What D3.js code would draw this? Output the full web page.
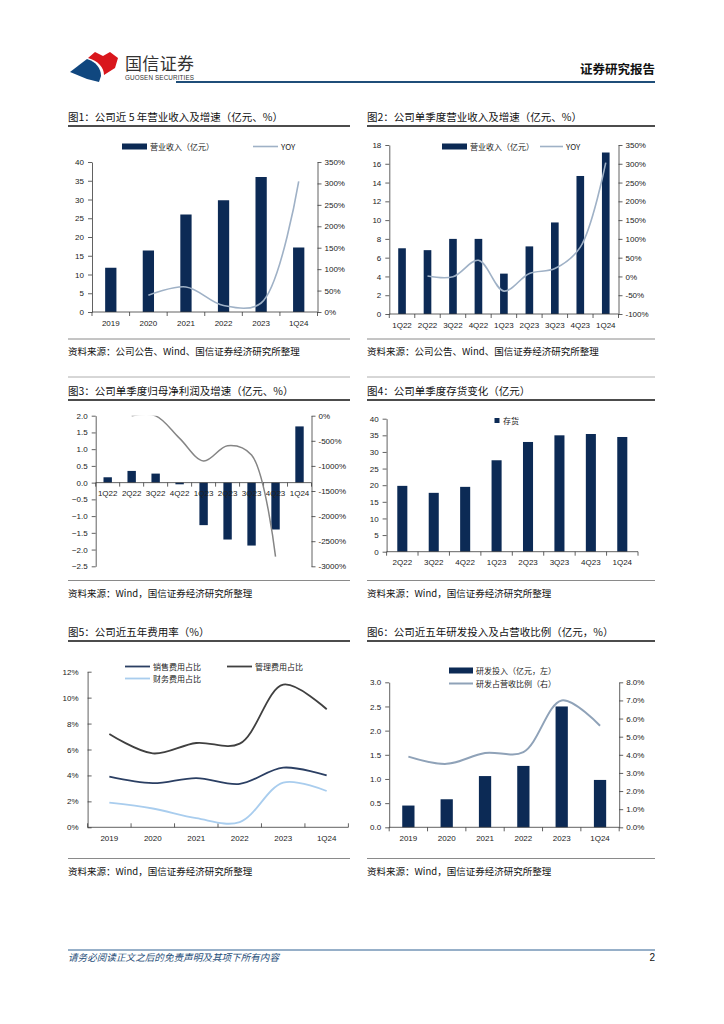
<!DOCTYPE html>
<html><head><meta charset="utf-8">
<script src="https://cdn.jsdelivr.net/npm/d3@7"></script>
<style>
html,body{margin:0;padding:0;background:#fff;}
svg{display:block;}
</style>
</head><body>
<script>
// ---------------- DATA ----------------
const years = ["2019","2020","2021","2022","2023","1Q24"];
const revenueAnnual = [11.8, 16.4, 26.0, 29.8, 36.0, 17.2];
const revenueAnnualYoY = [null, 39, 58.5, 15, 21, 305];

const quarters9 = ["1Q22","2Q22","3Q22","4Q22","1Q23","2Q23","3Q23","4Q23","1Q24"];
const revenueQ = [7.0, 6.8, 8.0, 8.0, 4.3, 7.2, 9.75, 14.7, 17.2];
const revenueQYoY = [null, 1, -1, 43, -39, 8, 21, 78, 303];

const profitQ = [0.16, 0.35, 0.27, -0.05, -1.27, -1.70, -1.88, -1.40, 1.68];
const profitQYoY = [null, -3, -3, -451, -902, -597, -783, -2807, null];

const quarters8 = ["2Q22","3Q22","4Q22","1Q23","2Q23","3Q23","4Q23","1Q24"];
const inventory = [19.8, 17.7, 19.5, 27.5, 33.0, 35.0, 35.4, 34.5];

const salesExpRatio = [3.9, 3.4, 3.8, 3.35, 4.6, 4.0];
const adminExpRatio = [7.2, 5.7, 6.5, 6.45, 11.0, 9.1];
const finExpRatio = [1.9, 1.45, 0.7, 0.4, 3.45, 2.8];

const rdInvest = [0.45, 0.58, 1.06, 1.27, 2.5, 0.98];
const rdRatio = [3.9, 3.5, 4.1, 4.15, 7.0, 5.6];

const leftTicks1 = [0,5,10,15,20,25,30,35,40];
const rightTicks1 = [0,50,100,150,200,250,300,350];
const leftTicks2 = [0,2,4,6,8,10,12,14,16,18];
const rightTicks2 = [-100,-50,0,50,100,150,200,250,300,350];
const leftTicks3 = [-2.5,-2,-1.5,-1,-0.5,0,0.5,1,1.5,2];
const rightTicks3 = [-3000,-2500,-2000,-1500,-1000,-500,0];
const leftTicks4 = [0,5,10,15,20,25,30,35,40];
const leftTicks5 = [0,2,4,6,8,10,12];
const leftTicks6 = [0,0.5,1,1.5,2,2.5,3];
const rightTicks6 = [0,1,2,3,4,5,6,7,8];

// ---------------- STYLE ----------------
const CJK = "'Noto Sans CJK SC','Noto Sans',sans-serif";
const LAT = "'Liberation Sans',Arial,sans-serif";
const NAVY = "#0c2a55";
const AXIS = "#3a3a3a";

const svg = d3.select("body").append("svg").attr("width",724).attr("height",1024);
svg.append("rect").attr("width",724).attr("height",1024).attr("fill","#fff");

// ---------------- HEADER ----------------
const logo = svg.append("g");
logo.append("path").attr("d","M88,58 L95,52 L103,56 L110,52 L118,58 L115,68 L104,75 C104,67 98,61 88,58 Z").attr("fill","#d9161c");
logo.append("path").attr("d","M70,72 L87,59 C96,62 101,68 101,76 L99,82 L87,79 Z").attr("fill","#10477f");
logo.append("text").attr("x",125).attr("y",70).attr("font-family",CJK).attr("font-size",17).attr("fill","#333").attr("textLength",69).text("国信证券");
logo.append("text").attr("x",125).attr("y",80).attr("font-family",LAT).attr("font-size",6.3).attr("fill","#333").attr("textLength",69).text("GUOSEN SECURITIES");
svg.append("line").attr("x1",176).attr("x2",655).attr("y1",82).attr("y2",82).attr("stroke","#1f4e79").attr("stroke-width",2);
svg.append("text").attr("x",655).attr("y",74).attr("text-anchor","end").attr("font-family",CJK).attr("font-weight","bold").attr("font-size",12.5).attr("fill","#111").text("证券研究报告");

// ---------------- FOOTER ----------------
svg.append("line").attr("x1",68).attr("x2",655).attr("y1",950).attr("y2",950).attr("stroke","#2e6192").attr("stroke-width",1);
svg.append("text").attr("x",68).attr("y",961).attr("font-family",CJK).attr("font-style","italic").attr("font-size",9.6).attr("fill","#1f4e79").text("请务必阅读正文之后的免责声明及其项下所有内容");
svg.append("text").attr("x",655).attr("y",961).attr("text-anchor","end").attr("font-family",LAT).attr("font-size",10).attr("fill","#111").text("2");

// ---------------- PANEL FRAME ----------------
function frame(x0,x1,titleY,title,srcY,src,topLine){
  if(topLine) svg.append("line").attr("x1",x0).attr("x2",x1).attr("y1",topLine).attr("y2",topLine).attr("stroke","#9a9a9a").attr("stroke-width",0.8);
  svg.append("text").attr("x",x0).attr("y",titleY).attr("font-family",CJK).attr("font-size",10.5).attr("fill","#111").text(title);
  svg.append("line").attr("x1",x0).attr("x2",x1).attr("y1",titleY+5).attr("y2",titleY+5).attr("stroke","#111").attr("stroke-width",1.3);
  svg.append("line").attr("x1",x0).attr("x2",x1).attr("y1",srcY-16).attr("y2",srcY-16).attr("stroke","#8a8a8a").attr("stroke-width",1);
  svg.append("text").attr("x",x0).attr("y",srcY).attr("font-family",CJK).attr("font-size",9.5).attr("fill","#111").text(src);
}

// axis helpers
function styleAxis(g){
  g.selectAll("path.domain").attr("stroke",AXIS).attr("stroke-width",0.8);
  g.selectAll(".tick line").attr("stroke",AXIS).attr("stroke-width",0.8);
  g.selectAll(".tick text").attr("font-family",LAT).attr("font-size",8).attr("fill","#222");
}
function leftAxis(scale,x,ticks,fmt,inner){
  const a = d3.axisLeft(scale).tickValues(ticks).tickFormat(fmt).tickSizeOuter(0).tickSizeInner(inner?-4:4).tickPadding(inner?9:4);
  const g = svg.append("g").attr("transform",`translate(${x},0)`).call(a);
  styleAxis(g); return g;
}
function rightAxis(scale,x,ticks,fmt){
  const a = d3.axisRight(scale).tickValues(ticks).tickFormat(fmt).tickSizeOuter(0).tickSizeInner(4).tickPadding(3);
  const g = svg.append("g").attr("transform",`translate(${x},0)`).call(a);
  styleAxis(g); return g;
}
function xAxis(xs,y,labelY,cats,tickDir){
  const r = xs.range();
  svg.append("line").attr("x1",r[0]).attr("x2",r[1]).attr("y1",y).attr("y2",y).attr("stroke",AXIS).attr("stroke-width",0.8);
  const bounds = cats.map(c=>xs(c)).concat([r[1]]);
  svg.append("g").selectAll("line").data(bounds).join("line")
    .attr("x1",d=>d).attr("x2",d=>d).attr("y1",y).attr("y2",y+4*tickDir)
    .attr("stroke",AXIS).attr("stroke-width",0.8);
  svg.append("g").selectAll("text").data(cats).join("text")
    .attr("x",d=>xs(d)+xs.bandwidth()/2).attr("y",labelY).attr("text-anchor","middle")
    .attr("font-family",LAT).attr("font-size",8).attr("fill","#222").text(d=>d);
}
function bars(xs,ys,cats,vals,ratio,color){
  const w = xs.bandwidth()*ratio;
  svg.append("g").selectAll("rect").data(vals).join("rect")
    .attr("x",(d,i)=>xs(cats[i])+xs.bandwidth()/2-w/2)
    .attr("y",d=>Math.min(ys(d),ys(0)))
    .attr("width",w).attr("height",d=>Math.abs(ys(d)-ys(0)))
    .attr("fill",color||NAVY);
}
let clipId=0;
function line(xs,ys,cats,vals,color,width,clip){
  const gen = d3.line().defined(d=>d!=null).x((d,i)=>xs(cats[i])+xs.bandwidth()/2).y(d=>ys(d)).curve(d3.curveCatmullRom.alpha(0.5));
  const p = svg.append("path").attr("d",gen(vals)).attr("fill","none").attr("stroke",color).attr("stroke-width",width).attr("stroke-linejoin","round");
  if(clip){
    const id="clip"+(clipId++);
    svg.append("clipPath").attr("id",id).append("rect").attr("x",clip[0]).attr("y",clip[1]).attr("width",clip[2]).attr("height",clip[3]);
    p.attr("clip-path",`url(#${id})`);
  }
}
function legendBar(x,y,w,label){
  svg.append("rect").attr("x",x).attr("y",y-3).attr("width",w).attr("height",6).attr("fill",NAVY);
  svg.append("text").attr("x",x+w+3).attr("y",y+3).attr("font-family",CJK).attr("font-size",8).attr("fill","#222").text(label);
}
function legendLine(x,y,w,label,color,width){
  svg.append("line").attr("x1",x).attr("x2",x+w).attr("y1",y).attr("y2",y).attr("stroke",color).attr("stroke-width",width);
  svg.append("text").attr("x",x+w+3).attr("y",y+3).attr("font-family",CJK).attr("font-size",8).attr("fill","#222").text(label);
}
const pct = d=>d+"%";

// ---------------- CHART 1 ----------------
frame(68,350,121,"图1：公司近 5 年营业收入及增速（亿元、%）",355,"资料来源：公司公告、Wind、国信证券经济研究所整理");
{
  const xs = d3.scaleBand().domain(years).range([92,317.5]);
  const yL = d3.scaleLinear().domain([0,40]).range([312,162]);
  const yR = d3.scaleLinear().domain([0,350]).range([312,162]);
  bars(xs,yL,years,revenueAnnual,0.3);
  line(xs,yR,years,revenueAnnualYoY,"#9fb1c6",1.6);
  leftAxis(yL,92,leftTicks1,d=>d);
  rightAxis(yR,317.5,rightTicks1,pct);
  xAxis(xs,312,326,years,1);
  legendBar(122,146.5,25,"营业收入（亿元）");
  legendLine(253,146.5,25,"YOY","#9fb1c6",1.6);
}

// ---------------- CHART 2 ----------------
frame(367,655,121,"图2：公司单季度营业收入及增速（亿元、%）",355,"资料来源：公司公告、Wind、国信证券经济研究所整理");
{
  const xs = d3.scaleBand().domain(quarters9).range([389.3,618.5]);
  const yL = d3.scaleLinear().domain([0,18]).range([314,145]);
  const yR = d3.scaleLinear().domain([-100,350]).range([314,145]);
  bars(xs,yL,quarters9,revenueQ,0.3);
  line(xs,yR,quarters9,revenueQYoY,"#9fb1c6",1.6);
  leftAxis(yL,389.3,leftTicks2,d=>d);
  rightAxis(yR,618.5,rightTicks2,pct);
  xAxis(xs,314,328,quarters9,1);
  legendBar(442,146.5,25,"营业收入（亿元）");
  legendLine(540,146.5,23,"YOY","#9fb1c6",1.6);
}

// ---------------- CHART 3 ----------------
frame(68,350,395,"图3：公司单季度归母净利润及增速（亿元、%）",596.5,"资料来源：Wind，国信证券经济研究所整理",377);
{
  const xs = d3.scaleBand().domain(quarters9).range([95.7,311.5]);
  const yL = d3.scaleLinear().domain([-2.5,2]).range([566.3,415.7]);
  const yR = d3.scaleLinear().domain([-3000,0]).range([566.3,415.7]);
  bars(xs,yL,quarters9,profitQ,0.35);
  leftAxis(yL,95.7,leftTicks3,d3.format(".1f"));
  rightAxis(yR,311.5,rightTicks3,pct);
  xAxis(xs,yL(0),yL(0)+13,quarters9,1);
  line(xs,yR,quarters9,profitQYoY,"#858585",1.5,[95.7,415.7,215.8,151]);
}

// ---------------- CHART 4 ----------------
frame(367,655,395,"图4：公司单季度存货变化（亿元）",596.5,"资料来源：Wind，国信证券经济研究所整理",377);
{
  const xs = d3.scaleBand().domain(quarters8).range([386.6,638]);
  const yL = d3.scaleLinear().domain([0,40]).range([551.7,418.7]);
  bars(xs,yL,quarters8,inventory,0.32);
  leftAxis(yL,386.6,leftTicks4,d=>d);
  xAxis(xs,551.7,565,quarters8,1);
  svg.append("rect").attr("x",494.5).attr("y",418).attr("width",5).attr("height",5).attr("fill",NAVY);
  svg.append("text").attr("x",503).attr("y",423.5).attr("font-family",CJK).attr("font-size",8).attr("fill","#222").text("存货");
}

// ---------------- CHART 5 ----------------
frame(68,350,636,"图5：公司近五年费用率（%）",874.5,"资料来源：Wind，国信证券经济研究所整理");
{
  const xs = d3.scaleBand().domain(years).range([87.6,348.4]);
  const y = d3.scaleLinear().domain([0,12]).range([827.3,671.7]);
  leftAxis(y,87.6,leftTicks5,pct,true);
  xAxis(xs,827.3,841,years,-1);
  line(xs,y,years,salesExpRatio,"#2b3f63",1.8);
  line(xs,y,years,adminExpRatio,"#404040",1.8);
  line(xs,y,years,finExpRatio,"#a9cdee",1.8);
  legendLine(125,666.5,25,"销售费用占比","#2b3f63",1.8);
  legendLine(227,666.5,25,"管理费用占比","#404040",1.8);
  legendLine(125,678.5,25,"财务费用占比","#a9cdee",1.8);
}

// ---------------- CHART 6 ----------------
frame(367,655,636,"图6：公司近五年研发投入及占营收比例（亿元，%）",874.5,"资料来源：Wind，国信证券经济研究所整理");
{
  const xs = d3.scaleBand().domain(years).range([389.2,619.2]);
  const yL = d3.scaleLinear().domain([0,3]).range([827.3,682.3]);
  const yR = d3.scaleLinear().domain([0,8]).range([827.3,682.3]);
  bars(xs,yL,years,rdInvest,0.32);
  line(xs,yR,years,rdRatio,"#8fa2b8",2);
  leftAxis(yL,389.2,leftTicks6,d3.format(".1f"));
  rightAxis(yR,619.2,rightTicks6,d=>d3.format(".1f")(d)+"%");
  xAxis(xs,827.3,841,years,1);
  legendBar(449,670.5,24,"研发投入（亿元，左）");
  legendLine(449,683.5,24,"研发占营收比例（右）","#8fa2b8",2);
}
</script>
</body></html>
